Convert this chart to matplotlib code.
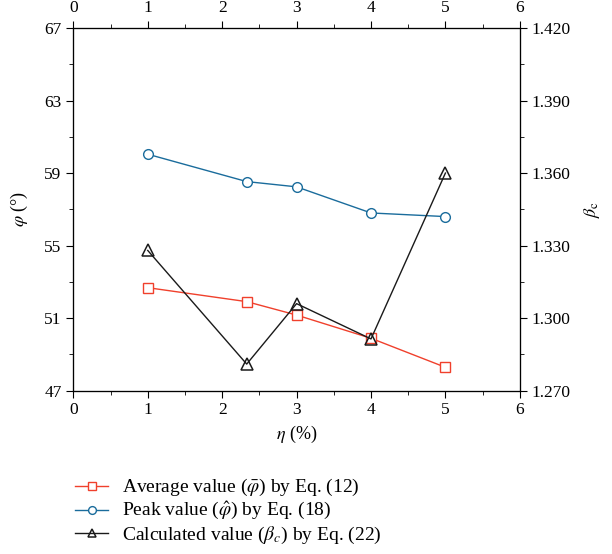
import numpy as np
import matplotlib.pyplot as plt

plt.rcParams['font.family'] = ['Liberation Serif', 'DejaVu Serif']
plt.rcParams['mathtext.fontset'] = 'stix'
plt.rcParams['font.size'] = 12

eta = [1, 2.33, 3, 4, 5]
phi_avg = [52.68, 51.91, 51.17, 49.89, 48.29]
phi_peak = [60.04, 58.53, 58.24, 56.80, 56.60]
beta_c = [1.328, 1.281, 1.306, 1.2914, 1.360]

labels = [r"Average value ($\bar{\varphi}$) by Eq. (12)",
          r"Peak value ($\hat{\varphi}$) by Eq. (18)",
          r"Calculated value ($\beta_{c}$) by Eq. (22)"]

red = '#f0402c'
blue = '#1a6c9c'
black = '#1a1a1a'

fig = plt.figure(figsize=(6.12, 5.54), dpi=100)
ax = fig.add_axes([0.1198, 0.2948, 0.7296, 0.6547])

l1, = ax.plot(eta, phi_avg, color=red, lw=1.0, marker='s', ms=6.5,
              mfc='white', mec=red, mew=1.0, label=labels[0])
l2, = ax.plot(eta, phi_peak, color=blue, lw=1.0, marker='o', ms=7,
              mfc='white', mec=blue, mew=1.0, label=labels[1])
ax.set_xlim(0, 6)
ax.set_ylim(47, 67)
ax.set_xticks(np.arange(0, 7, 1))
ax.set_xticks(np.arange(0.5, 6, 1), minor=True)
ax.set_yticks(np.arange(47, 68, 4))
ax.set_yticks(np.arange(49, 67, 4), minor=True)
ax.set_xlabel(r"$\eta$ (%)", fontsize=13, labelpad=4)
ax.set_ylabel(r"$\varphi$ (°)", fontsize=13, labelpad=10)

ax2 = ax.twinx()
l3, = ax2.plot(eta, beta_c, color=black, lw=1.0, marker='^', ms=8,
               mfc='none', mec=black, mew=1.1, label=labels[2])
ax2.set_ylim(1.270, 1.420)
r_ticks = [1.270, 1.300, 1.330, 1.360, 1.390, 1.420]
ax2.set_yticks(r_ticks)
ax2.set_yticklabels(['%.3f' % v for v in r_ticks])
ax2.set_yticks(np.arange(1.285, 1.42, 0.03), minor=True)
ax2.set_ylabel(r"$\beta_{\rm c}$", fontsize=13, labelpad=8)

ax3 = ax.twiny()
ax3.set_xlim(0, 6)
ax3.set_xticks(np.arange(0, 7, 1))
ax3.set_xticks(np.arange(0.5, 6, 1), minor=True)

for a in (ax, ax2, ax3):
    a.tick_params(which='both', direction='out', labelsize=12.5)
    a.tick_params(which='major', length=5)
    a.tick_params(which='minor', length=3)
ax.tick_params(right=False, top=False)

fig.legend(handles=[l1, l2, l3], loc='upper left',
           bbox_to_anchor=(0.094, 0.17), frameon=False, fontsize=14,
           handlelength=1.7, labelspacing=0.1, handletextpad=0.7,
           markerscale=0.8)

fig.savefig('out.png', dpi=100)
